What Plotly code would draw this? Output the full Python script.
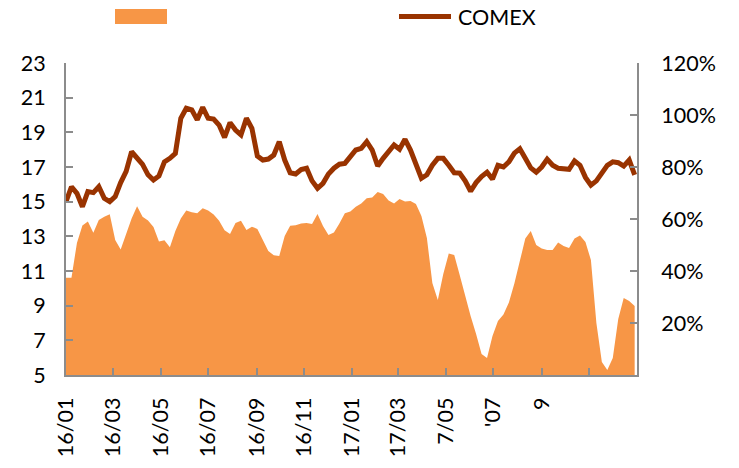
import pandas as pd
import plotly.graph_objects as go

# ---- data (weekly) ----
dates = pd.date_range("2016-01-01", periods=105, freq="7D")

comex = [15.0, 15.86, 15.48, 14.71, 15.58, 15.52, 15.86, 15.19, 15.0, 15.29,
         16.1, 16.75, 17.88, 17.5, 17.15, 16.55, 16.25, 16.48, 17.3, 17.5,
         17.78, 19.81, 20.39, 20.3, 19.72, 20.44, 19.81, 19.77, 19.42, 18.71,
         19.56, 19.13, 18.85, 19.81, 19.23, 17.63, 17.4, 17.46, 17.69, 18.46,
         17.4, 16.67, 16.6, 16.85, 16.93, 16.2, 15.77, 16.06, 16.6, 16.93,
         17.16, 17.21, 17.63, 17.98, 18.08, 18.46, 17.98, 17.06, 17.5, 17.88,
         18.27, 18.02, 18.6, 17.98, 17.21, 16.35, 16.55, 17.1, 17.5, 17.5,
         17.1, 16.67, 16.65, 16.2, 15.6, 16.1, 16.45, 16.7, 16.3, 17.1,
         17.0, 17.3, 17.8, 18.05, 17.5, 16.95, 16.7, 17.0, 17.45, 17.1,
         16.93, 16.87, 16.87, 17.35, 17.1, 16.4, 15.95, 16.2, 16.6, 17.1,
         17.3, 17.25, 17.05, 17.4, 16.54]

share_pct = [37.4, 37.4, 50.8, 57.5, 59.0, 54.7, 59.6, 60.9, 61.8, 51.9,
             48.3, 54.6, 60.2, 64.9, 60.9, 59.4, 56.9, 51.3, 51.8, 49.1,
             55.4, 60.2, 63.3, 62.6, 62.2, 64.1, 63.3, 61.7, 59.3, 55.7,
             54.2, 58.5, 59.3, 55.8, 57.0, 56.2, 51.8, 47.7, 46.1, 45.8,
             53.5, 57.4, 57.6, 58.3, 58.5, 58.1, 61.9, 57.3, 53.8, 54.8,
             58.3, 62.2, 62.9, 64.7, 66.0, 68.0, 68.3, 70.4, 69.6, 67.1,
             66.0, 67.7, 66.7, 66.9, 65.8, 61.2, 52.7, 35.4, 28.8, 38.8,
             46.7, 46.2, 38.5, 30.4, 22.7, 15.8, 8.1, 6.5, 15.0, 20.8,
             23.3, 27.9, 35.2, 43.8, 52.5, 55.4, 50.0, 48.7, 48.1, 48.1,
             51.0, 49.6, 48.8, 52.5, 53.7, 51.2, 44.2, 20.0, 5.0, 1.9,
             6.5, 21.5, 29.6, 28.5, 26.5]

tick_dates = ["2016-01-01", "2016-03-01", "2016-05-01", "2016-07-01", "2016-09-01",
              "2016-11-01", "2017-01-01", "2017-03-01", "2017-05-01", "2017-07-01",
              "2017-09-01", "2017-11-01", "2018-01-01"]
tick_labels = ["16/01", "16/03", "16/05", "16/07", "16/09", "16/11", "17/01",
               "17/03", "7/05", "'07", "9", "", ""]

left_ticks = list(range(5, 24, 2))
right_ticks = [20, 40, 60, 80, 100, 120]
right_labels = ["20%", "40%", "60%", "80%", "100%", "120%"]

series_name = "COMEX"

# ---- styling ----
AREA = "#F79646"
LINE = "#993300"
AX = "#8C8C8C"
FONT = "Lato"
FS = 21.5

W, H = 739, 468
L, R, T, B = 66, 637, 63, 375

fig = go.Figure()
fig.add_trace(go.Scatter(x=dates, y=share_pct, mode="lines", fill="tozeroy",
                         fillcolor=AREA, line=dict(color=AREA, width=0),
                         yaxis="y", showlegend=False, hoverinfo="skip"))
fig.add_trace(go.Scatter(x=dates, y=comex, mode="lines", name=series_name,
                         line=dict(color=LINE, width=5), yaxis="y2",
                         showlegend=False))

axis_common = dict(showgrid=False, zeroline=False, showline=True, linecolor=AX,
                   linewidth=2, ticks="inside", tickcolor=AX, tickwidth=2,
                   ticklen=7, tickfont=dict(family=FONT, size=FS, color="#000"))

fig.update_layout(
    width=W, height=H,
    margin=dict(l=L, r=W - R, t=T, b=H - B, autoexpand=False),
    paper_bgcolor="white", plot_bgcolor="white",
    showlegend=False,
    xaxis=dict(type="date", range=["2016-01-01", "2018-01-01"],
               tickmode="array", tickvals=tick_dates, ticktext=tick_labels,
               tickangle=-90, ticklabelstandoff=12, **axis_common),
    yaxis=dict(side="right", range=[0, 120], tickmode="array",
               tickvals=right_ticks, ticktext=right_labels,
               ticklabelstandoff=18, **axis_common),
    yaxis2=dict(side="left", overlaying="y", range=[5, 23], tickmode="array",
                tickvals=left_ticks, ticklabelstandoff=14, **axis_common),
)


def px(xp):
    return (xp - L) / (R - L)


def py(yp):
    return (B - yp) / (B - T)


# manual legend
fig.add_shape(type="rect", xref="paper", yref="paper",
              x0=px(115), x1=px(167), y0=py(24), y1=py(9),
              fillcolor=AREA, line=dict(width=0))
fig.add_shape(type="line", xref="paper", yref="paper",
              x0=px(399), x1=px(451), y0=py(16.5), y1=py(16.5),
              line=dict(color=LINE, width=5))
fig.add_annotation(xref="paper", yref="paper", x=px(456), y=py(17),
                   xanchor="left", yanchor="middle", text=series_name,
                   showarrow=False, font=dict(family=FONT, size=FS, color="#000"))

fig.write_html("out.html",
               config={"displayModeBar": False},
               post_script="document.body.style.margin='0';")
